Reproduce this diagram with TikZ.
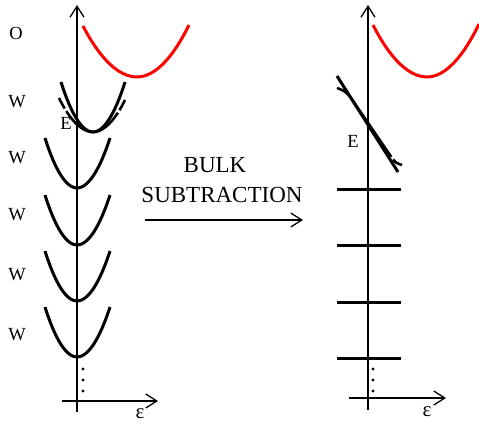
\documentclass[tikz,border=0pt]{standalone}
\usepackage{fontspec}
\setmainfont{Liberation Serif}
\usepackage{tikz}
\usetikzlibrary{arrows.meta}
\definecolor{oband}{RGB}{255, 0, 0}

\begin{document}
\begin{tikzpicture}[x=1pt, y=-1pt,
		axis/.style={line width=1.3pt, -{Straight Barb[length=11pt, width=14pt, line width=1.3pt]}},
		band/.style={line width=3pt},
		lab/.style={font=\fontsize{18.5}{22}\selectfont, inner sep=0pt},
		big/.style={font=\fontsize{23}{28}\selectfont, inner sep=0pt}]
			\useasboundingbox (0,0) rectangle (479,424);

			% axes of the left panel
			\coordinate (lbot) at (77,412);
			\coordinate (ltop) at (77,5);
			\coordinate (lxl)  at (62,401);
			\coordinate (lxr)  at (158,401);
			\draw[axis] (lbot) -- (ltop);
			\draw[axis] (lxl) -- (lxr);

			% axes of the right panel
			\coordinate (rbot) at (368,410);
			\coordinate (rtop) at (368,5);
			\coordinate (rxl)  at (349,398);
			\coordinate (rxr)  at (446,398);
			\draw[axis] (rbot) -- (rtop);
			\draw[axis] (rxl) -- (rxr);

			% O bands (red)
			\draw[band, oband] (83,26) parabola bend (137,77) (189,25);
			\draw[band, oband] (373,25) parabola bend (427,77) (479,24);

			% W bands before subtraction
			\draw[band] (61,82) parabola bend (93,132) (125,82);
			\draw[line width=2.6pt, dash pattern=on 12pt off 3pt on 68pt off 3pt on 14pt off 4pt on 2pt]
				(59,98) parabola bend (93,132) (125,100);
			\foreach \m in {188,245,301,357}
				\draw[band] (45,\m-50) parabola bend (77,\m) (110,\m-50);

			% levels after subtraction
			\draw[band] (337,76) -- (398,172);
			\draw[line width=2.6pt, dash pattern=on 89pt off 3pt on 12pt]
				(337,88) .. controls (345,91) .. (351,98) -- (392,158)
				.. controls (396,163) .. (402,165);
			\foreach \m in {189,245,302,358}
				\draw[band] (337,\m) -- (401,\m);

			% dots below the last band
			\foreach \y in {369,380,391} {
				\fill (83,\y) circle (1.6pt);
				\fill (373,\y) circle (1.6pt);
			}

			% labels
			\node[lab] (lO) at (16,33) {O};
			\node[lab] (lW1) at (17,102) {W};
			\node[lab] (lW2) at (17,158) {W};
			\node[lab] (lW3) at (17,215) {W};
			\node[lab] (lW4) at (17,275) {W};
			\node[lab] (lW5) at (17,335) {W};
			\node[lab] (lE) at (66,123) {E};
			\node[lab] (rE) at (353,141) {E};
			\node[lab, font=\fontsize{21}{25}\selectfont] (leps) at (140,414) {ε};
			\node[lab, font=\fontsize{21}{25}\selectfont] (reps) at (427,412) {ε};

			% bulk subtraction arrow
			\node[big] (bulk) at (215,165) {BULK};
			\node[big] (subtr) at (222,195) {SUBTRACTION};
			\coordinate (afrom) at (145,220);
			\coordinate (ato) at (303,220);
			\draw[axis] (afrom) -- (ato);
		\end{tikzpicture}
\end{document}
